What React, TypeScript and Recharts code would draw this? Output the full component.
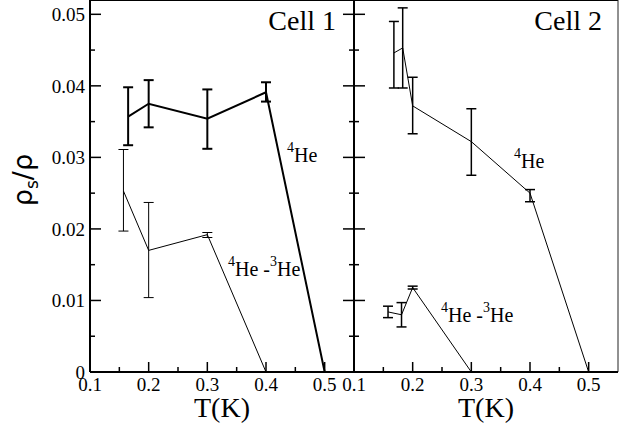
import { ErrorBar, Line, LineChart, ReferenceLine, XAxis, YAxis } from "recharts";

const SERIF = "Liberation Serif, Times New Roman, serif";

// axis ticks
const xMajor = [0.1, 0.2, 0.3, 0.4, 0.5];
const xAll = [0.1, 0.15, 0.2, 0.25, 0.3, 0.35, 0.4, 0.45, 0.5];
const yMajor = [0, 0.01, 0.02, 0.03, 0.04, 0.05];
const yAll = [0, 0.005, 0.01, 0.015, 0.02, 0.025, 0.03, 0.035, 0.04, 0.045, 0.05];

// Cell 1, 4He
const c1He4T = [0.165, 0.2, 0.3, 0.4, 0.5];
const c1He4Rho = [0.0357, 0.0375, 0.0354, 0.0391, 0];
const c1He4Lo = [0.0317, 0.0342, 0.0312, 0.0378, null];
const c1He4Hi = [0.0398, 0.0408, 0.0395, 0.0405, null];

// Cell 1, 4He-3He
const c1MixT = [0.157, 0.2, 0.3, 0.4];
const c1MixRho = [0.0253, 0.0170, 0.0192, 0];
const c1MixLo = [0.0197, 0.0104, 0.0188, null];
const c1MixHi = [0.0311, 0.0237, 0.0195, null];

// Cell 2, 4He
const c2He4T = [0.168, 0.183, 0.2, 0.3, 0.4, 0.5, 0.55];
const c2He4Rho = [0.0446, 0.0453, 0.0372, 0.0322, 0.0250, 0, 0];
const c2He4Lo = [0.0397, 0.0397, 0.0333, 0.0275, 0.0238, null, null];
const c2He4Hi = [0.0490, 0.0509, 0.0412, 0.0368, 0.0255, null, null];

// Cell 2, 4He-3He
const c2MixT = [0.158, 0.181, 0.2, 0.3];
const c2MixRho = [0.0084, 0.0080, 0.0118, 0];
const c2MixLo = [0.0076, 0.0063, 0.0116, null];
const c2MixHi = [0.0092, 0.0097, 0.0120, null];

type Row = { t: number; rho: number; err: number[] | null };

function rows(t: number[], rho: number[], lo: (number | null)[], hi: (number | null)[]): Row[] {
  return t.map((x, i) => ({
    t: x,
    rho: rho[i],
    err: lo[i] == null || hi[i] == null ? null : [rho[i] - (lo[i] as number), (hi[i] as number) - rho[i]],
  }));
}

const cells = [
  {
    name: "Cell 1",
    he4: rows(c1He4T, c1He4Rho, c1He4Lo, c1He4Hi),
    mix: rows(c1MixT, c1MixRho, c1MixLo, c1MixHi),
  },
  {
    name: "Cell 2",
    he4: rows(c2He4T, c2He4Rho, c2He4Lo, c2He4Hi),
    mix: rows(c2MixT, c2MixRho, c2MixLo, c2MixHi),
  },
];

const X_DOMAIN: [number, number] = [0.1, 0.55];
const Y_DOMAIN: [number, number] = [0, 0.052];
const X_MARGIN = 6;
const Y_MARGIN = 5;

// bottom axis: label for majors plus an inward tick mark
function XTick({ x, y, payload }: any) {
  const major = xMajor.includes(payload.value);
  const base = y - X_MARGIN;
  return (
    <g>
      <line x1={x} y1={base} x2={x} y2={base - (major ? 10 : 5)} stroke="#000" strokeWidth={1.5} />
      {major && (
        <text x={x} y={y} dy="0.71em" textAnchor="middle" fill="#000"
          style={{ fontFamily: SERIF, fontSize: 19 }}>
          {payload.value}
        </text>
      )}
    </g>
  );
}

// left axis with labels
function YTickLabelled({ x, y, payload }: any) {
  const major = yMajor.includes(payload.value);
  const base = x + Y_MARGIN;
  return (
    <g>
      <line x1={base} y1={y} x2={base + (major ? 11 : 5)} y2={y} stroke="#000" strokeWidth={1.5} />
      {major && (
        <text x={x} y={y} dy="0.355em" textAnchor="end" fill="#000"
          style={{ fontFamily: SERIF, fontSize: 19 }}>
          {payload.value}
        </text>
      )}
    </g>
  );
}

// the shared edge between the panels: marks only, pointing into the panel
function YTickIn({ x, y, payload, orientation }: any) {
  const major = yMajor.includes(payload.value);
  const len = (major ? 11 : 5) * (orientation === "right" ? -1 : 1);
  return <line x1={x} y1={y} x2={x + len} y2={y} stroke="#000" strokeWidth={1.5} />;
}

function YLabel({ viewBox }: any) {
  const cx = viewBox.x + 32;
  const cy = viewBox.y + viewBox.height / 2 - 6;
  return (
    <text
      x={cx}
      y={cy}
      transform={`rotate(-90, ${cx}, ${cy})`}
      textAnchor="middle"
      style={{ fontFamily: "DejaVu Sans", fontSize: 27 }}
      fill="#000"
    >
      ρ
      <tspan fontSize={17} dy={6}>
        s
      </tspan>
      <tspan dy={-6}>/ρ</tspan>
    </text>
  );
}

function Panel({ index }: { index: number }) {
  const cell = cells[index];
  const first = index === 0;
  // plot areas: x 90..354 and 354..618, y 0..372
  const margin = first
    ? { top: 0, right: 219, bottom: 0, left: 0 }
    : { top: 0, right: 15, bottom: 0, left: 294 };
  const he4Width = first ? 2 : 1;
  const he4ErrWidth = first ? 2 : 1.5;
  const mixErrWidth = first ? 1 : 1.5;

  return (
    <LineChart width={633} height={428} margin={margin}>
      <XAxis
        dataKey="t"
        type="number"
        domain={X_DOMAIN}
        allowDataOverflow
        ticks={xAll}
        interval={0}
        tickLine={false}
        tickSize={0}
        tickMargin={X_MARGIN}
        height={56}
        stroke="#000"
        axisLine={{ stroke: "#000", strokeWidth: 2 }}
        tick={<XTick />}
        label={{
          value: "T(K)",
          position: "insideBottom",
          offset: 11,
          fill: "#000",
          fontSize: 28,
          fontFamily: SERIF,
        }}
      />
      {first ? (
        <YAxis
          type="number"
          domain={Y_DOMAIN}
          allowDataOverflow
          ticks={yAll}
          interval={0}
          width={90}
          tickLine={false}
          tickSize={0}
          tickMargin={Y_MARGIN}
          stroke="#000"
          axisLine={{ stroke: "#000", strokeWidth: 2 }}
          tick={<YTickLabelled />}
          label={<YLabel />}
        />
      ) : (
        <YAxis
          type="number"
          domain={Y_DOMAIN}
          allowDataOverflow
          ticks={yAll}
          interval={0}
          width={60}
          tickLine={false}
          tickSize={0}
          tickMargin={0}
          axisLine={false}
          tick={<YTickIn />}
        />
      )}
      {first && (
        <YAxis
          yAxisId="edge"
          orientation="right"
          type="number"
          domain={Y_DOMAIN}
          allowDataOverflow
          ticks={yAll}
          interval={0}
          width={60}
          tickLine={false}
          tickSize={0}
          tickMargin={0}
          axisLine={{ stroke: "#000", strokeWidth: 2 }}
          tick={<YTickIn />}
        />
      )}

      <ReferenceLine y={Y_DOMAIN[1]} stroke="#000" strokeWidth={2} />
      {!first && <ReferenceLine x={X_DOMAIN[1]} stroke="#222" strokeWidth={1} />}

      <Line
        data={cell.he4}
        dataKey="rho"
        type="linear"
        stroke="#000"
        strokeWidth={he4Width}
        dot={false}
        isAnimationActive={false}
      >
        <ErrorBar dataKey="err" direction="y" width={5} stroke="#000" strokeWidth={he4ErrWidth} />
      </Line>
      <Line
        data={cell.mix}
        dataKey="rho"
        type="linear"
        stroke="#000"
        strokeWidth={1}
        dot={false}
        isAnimationActive={false}
      >
        <ErrorBar dataKey="err" direction="y" width={5} stroke="#000" strokeWidth={mixErrWidth} />
      </Line>
    </LineChart>
  );
}

function Iso({ x, y, mix }: { x: number; y: number; mix?: boolean }) {
  return (
    <text x={x} y={y} style={{ fontFamily: SERIF, fontSize: 20 }} fill="#000">
      <tspan fontSize={14} dy={-10}>4</tspan>
      <tspan dy={10}>He</tspan>
      {mix && (
        <>
          <tspan> -</tspan>
          <tspan fontSize={14} dy={-10}>3</tspan>
          <tspan dy={10}>He</tspan>
        </>
      )}
    </text>
  );
}

export default function App() {
  return (
    <div style={{ position: "absolute", left: 0, top: 0, width: 633, height: 428, background: "#fff" }}>
      <div style={{ position: "absolute", left: 0, top: 0 }}>
        <Panel index={0} />
      </div>
      <div style={{ position: "absolute", left: 0, top: 0 }}>
        <Panel index={1} />
      </div>
      <svg
        width={633}
        height={428}
        style={{ position: "absolute", left: 0, top: 0, pointerEvents: "none" }}
      >
        <text x={336} y={30} textAnchor="end" style={{ fontFamily: SERIF, fontSize: 28 }} fill="#000">
          {cells[0].name}
        </text>
        <text x={602} y={30} textAnchor="end" style={{ fontFamily: SERIF, fontSize: 28 }} fill="#000">
          {cells[1].name}
        </text>
        <Iso x={287} y={162} />
        <Iso x={228} y={276} mix />
        <Iso x={514} y={168} />
        <Iso x={441} y={322} mix />
      </svg>
    </div>
  );
}
